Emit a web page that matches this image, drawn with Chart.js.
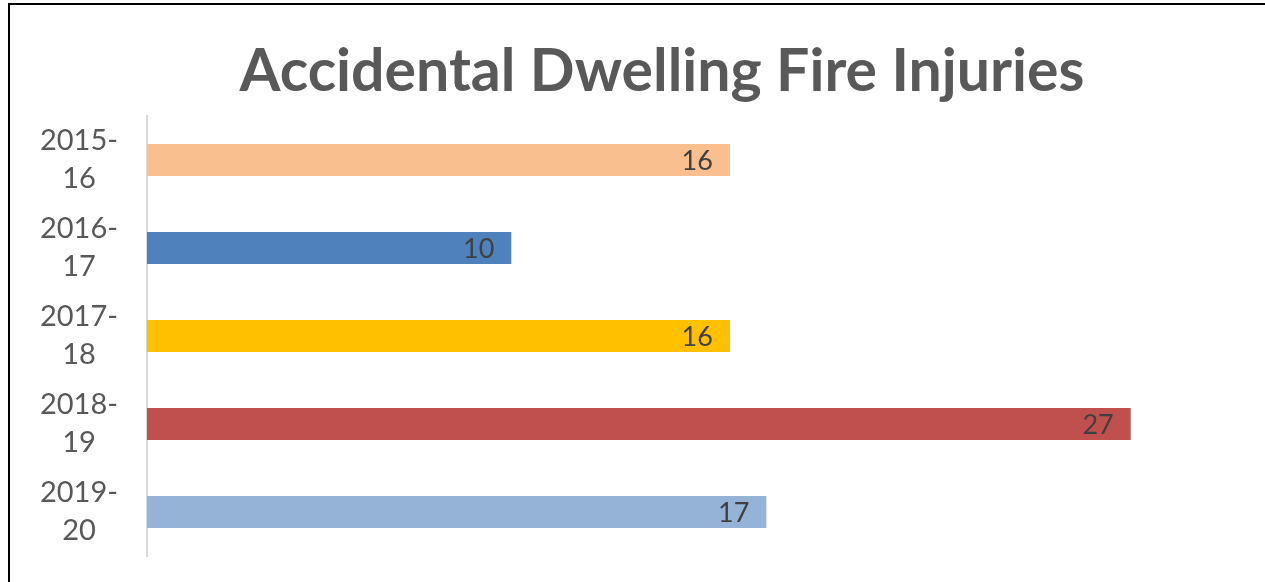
<!DOCTYPE html>
<html>
<head>
<meta charset="utf-8">
<script src="https://cdn.jsdelivr.net/npm/chart.js@4.4.1/dist/chart.umd.min.js"></script>
<style>
  html, body { margin: 0; padding: 0; background: #ffffff; }
  #wrap { position: relative; width: 1265px; height: 582px; overflow: hidden; background: #fff; }
  #frame { position: absolute; left: 8px; top: 3px; right: -10px; bottom: -10px; border-left: 2px solid #000; border-top: 2px solid #000; pointer-events: none; }
  canvas { position: absolute; left: 0; top: 0; }
</style>
</head>
<body>
<div id="wrap">
  <canvas id="c" width="1265" height="582"></canvas>
  <div id="frame"></div>
</div>
<script>
const chartTitle = 'Accidental Dwelling Fire Injuries';
const categories = [['2015-', '16'], ['2016-', '17'], ['2017-', '18'], ['2018-', '19'], ['2019-', '20']];
const injuries = [16, 10, 16, 27, 17];
const barColors = ['#F9BF8F', '#4F81BD', '#FFC000', '#C0504D', '#95B3D7'];
const xMin = 0;
const xMax = 30;

const FONT = 'Lato, "Open Sans", sans-serif';

const titleDraw = {
  id: 'titleDraw',
  afterDraw(chart) {
    const ctx = chart.ctx;
    ctx.save();
    ctx.font = 'bold 59px ' + FONT;
    ctx.fillStyle = '#595959';
    ctx.textAlign = 'center';
    ctx.textBaseline = 'alphabetic';
    ctx.fillText(chartTitle, 662, 91);
    ctx.restore();
  }
};

const dataLabels = {
  id: 'dataLabels',
  afterDatasetsDraw(chart) {
    const ctx = chart.ctx;
    const meta = chart.getDatasetMeta(0);
    ctx.save();
    ctx.font = '27px ' + FONT;
    ctx.fillStyle = '#404040';
    ctx.textAlign = 'right';
    ctx.textBaseline = 'middle';
    meta.data.forEach((bar, i) => {
      ctx.fillText(String(injuries[i]), bar.x - 17, bar.y + 1);
    });
    ctx.restore();
  }
};

new Chart(document.getElementById('c'), {
  type: 'bar',
  data: {
    labels: categories,
    datasets: [{
      data: injuries,
      backgroundColor: barColors,
      borderWidth: 0,
      barPercentage: 32 / 88,
      categoryPercentage: 1.0
    }]
  },
  options: {
    indexAxis: 'y',
    responsive: false,
    animation: false,
    devicePixelRatio: 1,
    layout: { padding: { left: 0, right: 25, top: 116, bottom: 26 } },
    plugins: {
      legend: { display: false },
      tooltip: { enabled: false },
      title: { display: false }
    },
    scales: {
      x: {
        display: false,
        min: xMin,
        max: xMax
      },
      y: {
        grid: { display: false },
        border: { display: true, color: '#D9D9D9', width: 2 },
        ticks: {
          color: '#595959',
          font: { family: FONT, size: 29, lineHeight: 1.31 },
          crossAlign: 'center',
          padding: 21
        },
        afterFit(scale) {
          scale.width = 147;
          scale.paddingTop = 0;
          scale.paddingBottom = 0;
        }
      }
    }
  },
  plugins: [dataLabels, titleDraw]
});
</script>
</body>
</html>
